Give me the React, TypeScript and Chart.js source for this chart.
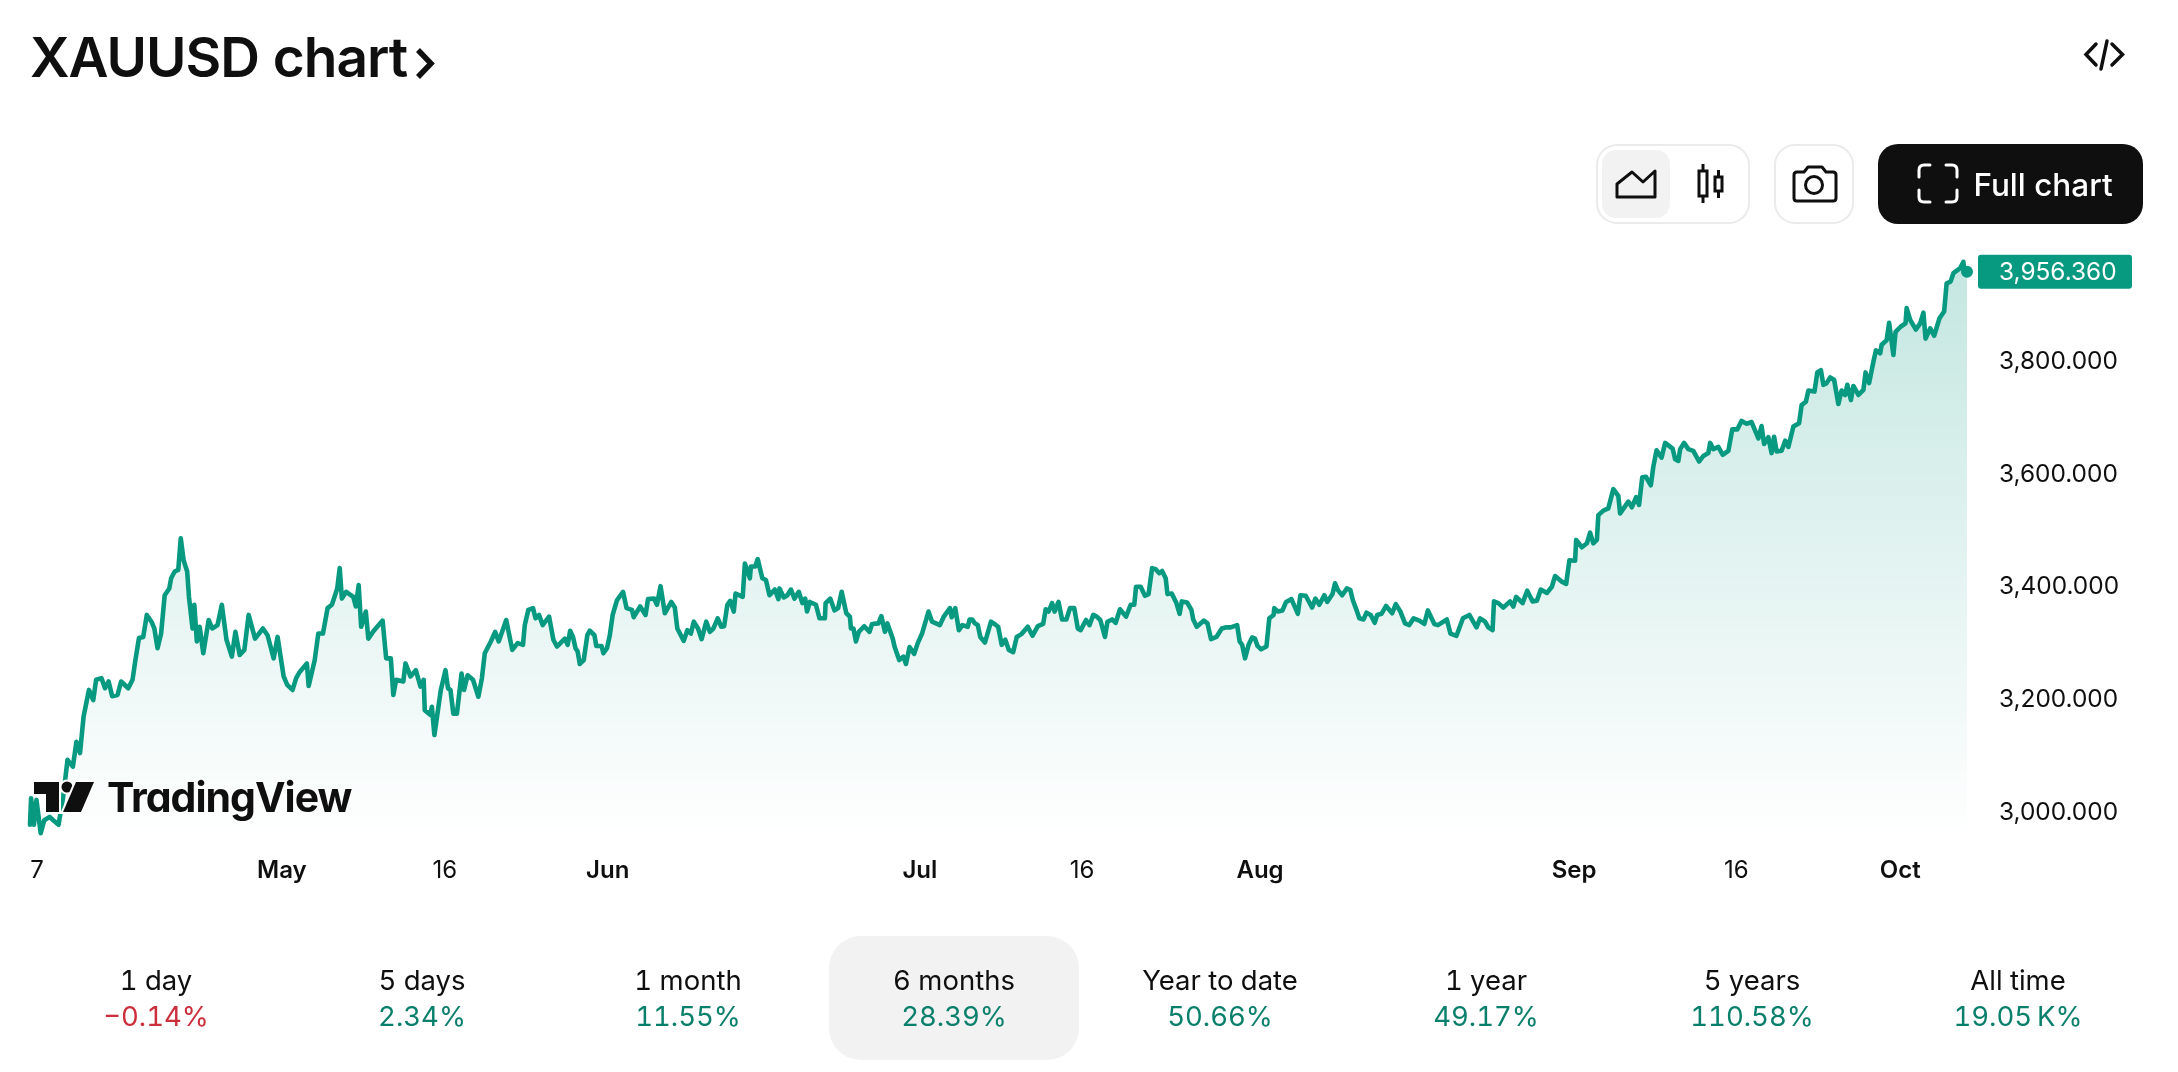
import React, { useEffect, useRef } from "react";
import { Chart, registerables } from "chart.js";

Chart.register(...registerables);

const barIndex = [85,88,96,103,115,125,140,150,165,178,190,205,215,225,235,250,262,270,285,295,305,315,330,340,360,372,380,390,402,412,425,433,442,452,462,475,480,490,500,507,515,525,530,540,545,552,560,570,585,595,610,622,635,650,660,672,685,697,715,737,750,767,778,795,805,820,830,840,860,865,882,892,905,918,930,945,952,958,970,990,997,1005,1012,1025,1032,1045,1072,1082,1095,1102,1110,1130,1136,1150,1165,1178,1187,1190,1205,1210,1217,1235,1248,1255,1262,1270,1280,1293,1300,1310,1325,1340,1350,1358,1375,1387,1397,1418,1435,1450,1465,1470,1480,1493,1500,1510,1520,1538,1550,1560,
1582,1590,1597,1605,1612,1618,1624,1635,1645,1652,1665,1670,1685,1690,1700,1708,1716,1728,1745,1755,1770,1775,1793,1808,1815,1832,1840,1850,1862,1880,1890,1897,1915,1925,1935,1943,1955,1965,1978,1988,1998,2010,2020,2028,2037,2045,2055,2060,2080,2086,2100,2103,2115,2122,2135,2145,2155,2170,2180,2183,2195,2205,2215,2225,2237,2247,2255,2260,2268,2285,2295,2310,2312,2325,2337,2347,2357,2370,2380,2383,2390,2397,2405,2420,2435,2442,2460,2468,2478,2485,2500,2505,2518,2530,2537,2547,2560,2570,2582,2600,2610,2632,2642,2660,2665,2675,2685,2695,2710,2715,2722,2730,2738,2745,2758,2775,2785,2795,2805,2815,2825,2837,2847,2860,
2878,2891,2906,2921,2928,2936,2946,2953,2964,2974,2986,2996,3008,3018,3026,3041,3051,3061,3071,3081,3094,3101,3114,3124,3136,3153,3166,3176,3181,3194,3206,3216,3226,3236,3246,3254,3264,3269,3281,3294,3303,3309,3324,3336,3341,3351,3371,3381,3391,3406,3421,3434,3446,3464,3471,3478,3486,3496,3506,3514,3521,3531,3546,3554,3566,3568,3578,3591,3601,3616,3634,3641,3656,3674,3683,3694,3708,3716,3731,3738,3746,3758,3771,3781,3788,3798,3806,3818,3826,3838,3849,3856,3868,3881,3898,3908,3921,3934,3946,3958,3974,3988,3998,4016,4026,4051,4061,4078,4096,4114,4134,
4144,4158,4167,4179,4183,4195,4209,4228,4237,4245,4263,4276,4291,4303,4314,4331,4345,4354,4373,4385,4394,4410,4413,4429,4443,4452,4461,4471,4475,4489,4503,4517,4531,4536,4559,4569,4581,4589,4598,4608,4622,4629,4638,4652,4662,4683,4690,4699,4704,4715,4727,4741,4757,4769,4783,4788,4797,4811,4823,4839,4850,4864,4876,4890,4904,4923,4932,4939,4951,4960,4967,4974,4988,4998,5007,5014,5021,5037,5044,5056,5063,5080,5088,5098,5105,5114,5124,5135,5147,5156,5166,5172,5182,5189,5203,5217,5223,5233,5245,5252,5264,5268,5282,5289,5301,5307,5321,5335,5338,5348,5364,5376,5385,5391,5404,5415,5430,5443,5450,5461,5469,5488,5497,5499,5507];

const prices = [2976,3023,2976,3020,2961,2984,2990,2984,2976,3026,3091,3079,3123,3103,3168,3215,3197,3233,3236,3218,3230,3204,3206,3230,3218,3233,3268,3307,3309,3348,3336,3324,3289,3315,3383,3395,3413,3425,3428,3484,3445,3425,3380,3324,3366,3301,3327,3280,3339,3324,3330,3366,3304,3274,3318,3277,3286,3348,3306,3324,3312,3271,3309,3239,3224,3215,3236,3247,3262,3222,3268,3315,3315,3360,3366,3395,3431,3377,3389,3380,3363,3401,3327,3354,3306,3318,3338,3271,3271,3206,3233,3230,3262,3239,3250,3221,3233,3179,3171,3185,3135,3215,3250,3218,3215,3173,3173,3244,3215,3241,3233,3203,3236,3280,3301,3318,3301,3339,3286,3298,3295,3330,3357,3360,3342,3348,3330,3345,3304,3292,
3306,3295,3320,3309,3289,3283,3261,3268,3312,3320,3312,3293,3293,3280,3289,3312,3348,3374,3389,3360,3357,3344,3363,3348,3376,3377,3366,3399,3351,3371,3361,3324,3302,3321,3315,3336,3324,3305,3336,3318,3324,3342,3327,3328,3366,3373,3354,3386,3380,3439,3413,3434,3434,3447,3413,3410,3383,3393,3376,3395,3379,3383,3393,3377,3389,3369,3377,3354,3371,3366,3342,3342,3369,3377,3356,3360,3389,3351,3345,3324,3324,3301,3318,3328,3318,3332,3333,3346,3318,3333,3306,3292,3268,3274,3261,3291,3279,3298,3315,3354,3336,3330,3344,3360,3344,3360,3321,3330,3327,3340,3340,3333,3330,3309,3299,3336,3332,3327,3295,3304,3286,3282,3309,3314,
3327,3311,3328,3332,3358,3354,3369,3354,3371,3340,3340,3360,3360,3324,3321,3339,3330,3348,3345,3339,3309,3336,3340,3334,3358,3345,3366,3366,3398,3398,3382,3385,3431,3429,3422,3426,3413,3385,3386,3369,3350,3372,3370,3357,3340,3327,3338,3333,3305,3309,3324,3326,3326,3330,3301,3295,3271,3295,3308,3306,3293,3287,3292,3342,3348,3360,3354,3356,3371,3376,3350,3383,3382,3361,3377,3366,3383,3371,3385,3404,3392,3383,3395,3392,3374,3357,3342,3340,3352,3348,3334,3348,3350,3364,3351,3367,3354,3333,3330,3342,3338,3332,3356,3332,3330,3340,3315,3311,3342,3348,3326,
3342,3336,3326,3321,3372,3369,3361,3372,3363,3380,3369,3391,3372,3373,3393,3387,3398,3417,3407,3403,3445,3444,3481,3468,3475,3494,3475,3481,3525,3533,3537,3571,3559,3528,3549,3539,3557,3543,3592,3593,3578,3611,3640,3627,3653,3643,3624,3621,3642,3653,3642,3639,3620,3630,3635,3653,3642,3646,3632,3639,3677,3677,3692,3687,3690,3661,3683,3651,3663,3635,3664,3638,3639,3657,3646,3664,3682,3688,3720,3726,3746,3744,3778,3782,3756,3759,3769,3765,3722,3746,3738,3756,3729,3754,3738,3747,3778,3759,3797,3817,3812,3827,3835,3866,3809,3850,3859,3865,3892,3871,3854,3865,3884,3838,3856,3843,3874,3886,3936,3939,3954,3963,3974,3957,3956.36];

const priceTicks = [3000, 3200, 3400, 3600, 3800];
const timeTickBars = [105, 790, 1246, 1702, 2576, 3030, 3528, 4407, 4861, 5320];
const timeTickLabels = ["7", "May", "16", "Jun", "Jul", "16", "Aug", "Sep", "16", "Oct"];
const monthLabels = ["May", "Jun", "Jul", "Aug", "Sep", "Oct"];
const periodNames = ["1 day", "5 days", "1 month", "6 months", "Year to date", "1 year", "5 years", "All time"];
const periodChanges = ["−0.14%", "2.34%", "11.55%", "28.39%", "50.66%", "49.17%", "110.58%", "19.05\u202fK%"];

const TEAL = "#089981";
const INK = "#0f0f0f";
const FONT = "Inter, sans-serif";
const fmt = (v: number) => v.toLocaleString("en-US", { minimumFractionDigits: 3, maximumFractionDigits: 3 });

const lastPricePlugin = {
  id: "lastPrice",
  afterDraw(chart: any) {
    const { ctx, scales } = chart;
    const v = prices[prices.length - 1];
    const y = scales.y.getPixelForValue(v);
    ctx.save();
    ctx.fillStyle = TEAL;
    ctx.beginPath();
    ctx.roundRect(1978, y - 17, 154, 34, 3);
    ctx.fill();
    ctx.fillStyle = "#fff";
    ctx.font = `400 24.4px ${FONT}`;
    ctx.textBaseline = "middle";
    ctx.textAlign = "left";
    ctx.fillText(fmt(v), 1999, y + 1);
    ctx.restore();
  },
};

function Txt({ x, y, size, weight = 400, color = INK, children, align = "center", ls = 0 }: any) {
  const tx = align === "center" ? "-50%" : "0";
  return (
    <div
      style={{
        position: "absolute", left: x, top: y, transform: `translate(${tx},-50%)`, fontFamily: FONT,
        fontSize: size, fontWeight: weight, color, whiteSpace: "nowrap", lineHeight: 1, letterSpacing: ls,
        fontVariantNumeric: "tabular-nums",
      }}
    >
      {children}
    </div>
  );
}

export default function App() {
  const ref = useRef<HTMLCanvasElement>(null);
  useEffect(() => {
    const chart = new Chart(ref.current as HTMLCanvasElement, {
      type: "line",
      plugins: [lastPricePlugin],
      data: {
        datasets: [
          {
            data: barIndex.map((x, i) => ({ x, y: prices[i] })),
            borderColor: TEAL,
            borderWidth: 4.6,
            borderJoinStyle: "round",
            borderCapStyle: "round",
            tension: 0,
            fill: "start",
            clip: false,
            backgroundColor: (c: any) => {
              const { chart: ch } = c;
              if (!ch.chartArea) return "rgba(8,153,129,0.1)";
              const g = ch.ctx.createLinearGradient(0, ch.scales.y.getPixelForValue(3974), 0, ch.chartArea.bottom - 8);
              g.addColorStop(0, "rgba(8,153,129,0.24)");
              g.addColorStop(1, "rgba(8,153,129,0)");
              return g;
            },
            pointRadius: (c: any) => (c.dataIndex === prices.length - 1 ? 6 : 0),
            pointBackgroundColor: TEAL,
            pointBorderWidth: 0,
          },
        ],
      },
      options: {
        animation: false,
        responsive: false,
        devicePixelRatio: 1,
        layout: { padding: { top: 240, left: 30, right: 0, bottom: 0 } },
        plugins: { legend: { display: false }, tooltip: { enabled: false } },
        scales: {
          x: {
            type: "linear",
            min: 85,
            max: 5507,
            grid: { display: false, drawTicks: false },
            border: { display: false },
            afterFit: (s: any) => { s.height = 222; },
            afterBuildTicks: (s: any) => { s.ticks = timeTickBars.map((value) => ({ value })); },
            ticks: {
              autoSkip: false,
              maxRotation: 0,
              padding: 6,
              color: INK,
              font: (c: any) => ({
                family: FONT,
                size: 24,
                weight: monthLabels.includes(timeTickLabels[timeTickBars.indexOf(c.tick?.value)]) ? "600" : "400",
              }),
              callback: (v: any) => timeTickLabels[timeTickBars.indexOf(v)] ?? "",
            },
          },
          y: {
            position: "right",
            min: 2931.2,
            max: 4012.8,
            grid: { display: false, drawTicks: false },
            border: { display: false },
            afterFit: (s: any) => { s.width = 211; },
            afterBuildTicks: (s: any) => { s.ticks = priceTicks.map((value) => ({ value })); },
            ticks: {
              padding: 32,
              labelOffset: 1.5,
              color: INK,
              font: { family: FONT, size: 24.4, weight: "400" },
              callback: (v: any) => fmt(Number(v)),
            },
          },
        },
      },
    } as any);
    return () => chart.destroy();
  }, []);

  return (
    <div style={{ position: "absolute", left: 0, top: 0, width: 2178, height: 1072, background: "#fff", overflow: "hidden" }}>
      <canvas ref={ref} width={2178} height={1072} style={{ position: "absolute", left: 0, top: 0, width: 2178, height: 1072 }} />
      <Txt x={30} y={57} size={55} weight={600} align="left" ls={-1}>XAUUSD chart</Txt>
      <svg width={2178} height={1072} style={{ position: "absolute", left: 0, top: 0, pointerEvents: "none" }}>
        <path d="M418 50 L431 63.5 L418 77" fill="none" stroke={INK} strokeWidth={5.5} />
        {/* embed icon */}
        <g fill="none" stroke={INK} strokeWidth={3.5} strokeLinecap="round">
          <path d="M2096 44 L2086 54.5 L2096 65" />
          <path d="M2101 69 L2107 41" />
          <path d="M2112 44 L2122.5 54.5 L2112 65" />
        </g>
        {/* buttons */}
        <rect x={1597} y={145} width={152} height={78} rx={20} fill="#fff" stroke="#ebebeb" strokeWidth={2} />
        <rect x={1602} y={150} width={68} height={68} rx={14} fill="#f2f2f2" />
        <path d="M1617 197 V184 L1632 172 L1643 182 L1655 171 V197 Z" fill="none" stroke={INK} strokeWidth={3} strokeLinejoin="round" />
        <g fill="none" stroke={INK} strokeWidth={3}>
          <rect x={1699} y={171} width={8} height={25} />
          <path d="M1703 164 V171 M1703 196 V203" />
          <rect x={1715} y={177} width={7} height={14} />
          <path d="M1718.5 170 V177 M1718.5 191 V198" />
        </g>
        <rect x={1775} y={145} width={78} height={78} rx={20} fill="#fff" stroke="#ebebeb" strokeWidth={2} />
        <g fill="none" stroke={INK} strokeWidth={3} strokeLinejoin="round">
          <path d="M1794 175 Q1794 172 1797 172 H1804 L1808 167 H1822 L1826 172 H1833 Q1836 172 1836 175 V198 Q1836 201 1833 201 H1797 Q1794 201 1794 198 Z" />
          <circle cx={1814} cy={185} r={8.5} />
        </g>
        <rect x={1878} y={144} width={265} height={80} rx={20} fill={INK} />
        <g fill="none" stroke="#fff" strokeWidth={3} strokeLinecap="round">
          <path d="M1919 177 V170 Q1919 165 1924 165 H1930" />
          <path d="M1946 165 H1952 Q1957 165 1957 170 V177" />
          <path d="M1919 190 V197 Q1919 202 1924 202 H1930" />
          <path d="M1946 202 H1952 Q1957 202 1957 197 V190" />
        </g>
        {/* tab highlight */}
        <rect x={829} y={936} width={250} height={124} rx={32} fill="#f2f2f2" />
        {/* logo */}
        <g fill={INK} stroke="#fff" strokeWidth={4} paintOrder="stroke">
          <path d="M34 782 H59 V812 H46 V794 H34 Z" />
          <circle cx={67} cy={787} r={5.5} />
          <path d="M76 782 H94 L81 812 H63 Z" />
        </g>
      </svg>
      <div
        style={{
          position: "absolute", left: 107, top: 797, transform: "translateY(-50%)", fontFamily: FONT, fontSize: 41,
          fontWeight: 700, color: INK, lineHeight: 1, letterSpacing: -1, textShadow: "0 0 4px #fff, 0 0 4px #fff",
          fontFeatureSettings: '"cv11"',
        }}
      >
        TradingView
      </div>
      <Txt x={2043} y={185} size={31.5} weight={500} color="#fff">Full chart</Txt>
      {periodNames.map((n, i) => (
        <React.Fragment key={n}>
          <Txt x={156 + 266 * i} y={981} size={27.5}>{n}</Txt>
          <Txt x={156 + 266 * i} y={1017} size={27.5} color={periodChanges[i].startsWith("−") ? "#cc2f3c" : "#0a7f6b"}>{periodChanges[i]}</Txt>
        </React.Fragment>
      ))}
    </div>
  );
}
